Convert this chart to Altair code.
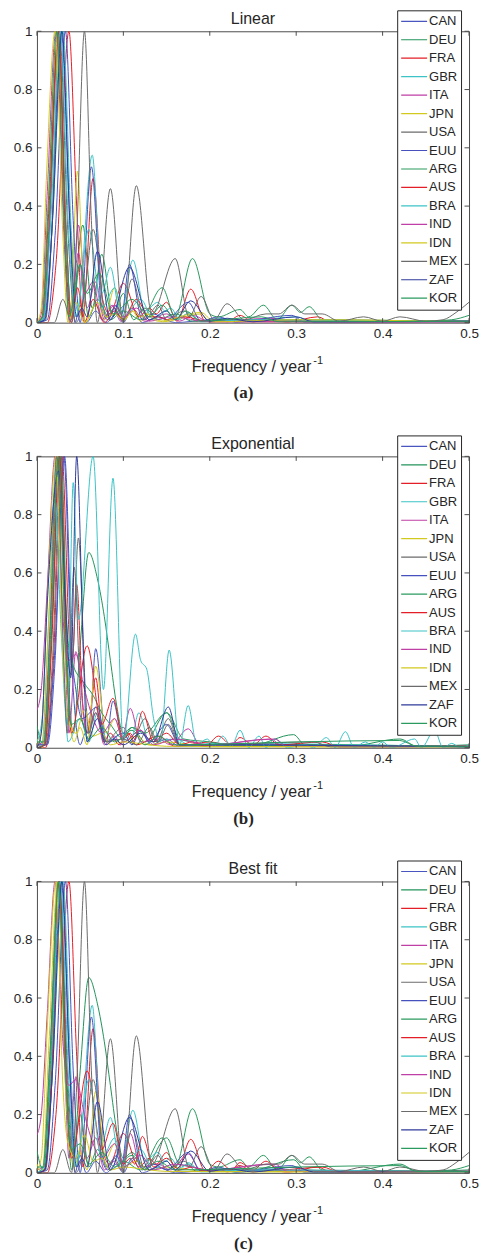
import altair as alt
import pandas as pd

COUNTRIES = ["CAN", "DEU", "FRA", "GBR", "ITA", "JPN", "USA", "EUU",
             "ARG", "AUS", "BRA", "IND", "IDN", "MEX", "ZAF", "KOR"]
COLORS = ["#4a56c0", "#22935a", "#e41e26", "#3cc3c6", "#bf3fa6", "#d2c91f", "#6b6b6b", "#4651bd",
          "#2a9a5e", "#e41e26", "#3cc3c6", "#bf3fa6", "#d2c91f", "#6b6b6b", "#2f3b9a", "#2a9a5e"]
XTICKS = [0, 0.1, 0.2, 0.3, 0.4, 0.5]
YTICKS = [0, 0.2, 0.4, 0.6, 0.8, 1]

# ---- Linear detrending: (frequency, normalised amplitude) ----
lin_CAN = [(0,0),(0.008,0.01),(0.016,0.25),(0.028,1),(0.038,0.35),(0.044,0.0),(0.05,0.06),(0.057,0.0),(0.068,0.04),(0.08,0.0),(0.092,0.03),(0.1,0.0),(0.11,0.05),(0.122,0.0),(0.14,0.02),(0.16,0.0),(0.2,0.01),(0.3,0.005),(0.5,0.005)]
lin_DEU = [(0,0),(0.007,0.01),(0.014,0.3),(0.024,1),(0.033,0.35),(0.04,0.02),(0.053,0.335),(0.064,0.05),(0.075,0.235),(0.088,0.02),(0.1,0.1),(0.112,0.01),(0.125,0.05),(0.14,0.01),(0.16,0.03),(0.18,0.005),(0.25,0.01),(0.5,0.005)]
lin_FRA = [(0,0),(0.012,0.0),(0.022,0.2),(0.037,1),(0.046,0.4),(0.053,0.02),(0.065,0.495),(0.076,0.08),(0.084,0.03),(0.1,0.135),(0.118,0.02),(0.13,0.05),(0.138,0.03),(0.15,0.07),(0.162,0.005),(0.178,0.115),(0.195,0.005),(0.21,0.015),(0.22,0.003),(0.235,0.025),(0.25,0.003),(0.27,0.01),(0.29,0.002),(0.325,0.02),(0.34,0.002),(0.5,0.005)]
lin_GBR = [(0,0),(0.01,0.02),(0.018,0.35),(0.03,1),(0.04,0.3),(0.047,0.04),(0.064,0.575),(0.075,0.1),(0.085,0.19),(0.097,0.02),(0.111,0.215),(0.125,0.04),(0.14,0.07),(0.148,0.04),(0.155,0.05),(0.165,0.01),(0.175,0.035),(0.19,0.005),(0.21,0.015),(0.23,0.002),(0.3,0.02),(0.32,0.002),(0.5,0.005)]
lin_ITA = [(0,0),(0.008,0.02),(0.015,0.35),(0.025,1),(0.034,0.3),(0.04,0.02),(0.048,0.335),(0.058,0.05),(0.068,0.14),(0.078,0.01),(0.087,0.06),(0.097,0.005),(0.11,0.05),(0.125,0.005),(0.15,0.03),(0.165,0.005),(0.18,0.025),(0.2,0.003),(0.27,0.015),(0.3,0.003),(0.5,0.003)]
lin_JPN = [(0,0),(0.006,0.02),(0.013,0.4),(0.024,1),(0.033,0.25),(0.038,0.0),(0.047,0.52),(0.056,0.0),(0.068,0.06),(0.078,0.01),(0.09,0.12),(0.1,0.005),(0.11,0.04),(0.12,0.005),(0.13,0.03),(0.145,0.003),(0.19,0.03),(0.2,0.003),(0.3,0.01),(0.5,0.003)]
lin_USA = [(0,0),(0.01,0.01),(0.017,0.3),(0.026,1),(0.036,0.3),(0.045,0.0),(0.055,0.1),(0.065,0.32),(0.08,0.02),(0.09,0.05),(0.098,0.01),(0.11,0.15),(0.125,0.01),(0.14,0.06),(0.15,0.01),(0.17,0.04),(0.185,0.005),(0.21,0.01),(0.5,0.005)]
lin_EUU = [(0,0),(0.012,0.01),(0.021,0.3),(0.033,1),(0.042,0.35),(0.05,0.0),(0.063,0.535),(0.075,0.05),(0.082,0.01),(0.092,0.06),(0.098,0.03),(0.107,0.2),(0.122,0.01),(0.135,0.03),(0.15,0.01),(0.175,0.07),(0.19,0.005),(0.21,0.02),(0.23,0.002),(0.295,0.025),(0.31,0.002),(0.5,0.005)]
lin_ARG = [(0,0),(0.007,0.02),(0.015,0.4),(0.025,1),(0.034,0.3),(0.04,0.01),(0.05,0.2),(0.06,0.02),(0.07,0.08),(0.085,0.01),(0.1,0.04),(0.12,0.01),(0.145,0.12),(0.16,0.02),(0.18,0.22),(0.2,0.03),(0.21,0.02),(0.235,0.045),(0.245,0.02),(0.262,0.06),(0.278,0.01),(0.295,0.06),(0.305,0.035),(0.315,0.055),(0.33,0.01),(0.36,0.005),(0.4,0.008),(0.45,0.005),(0.48,0.01),(0.5,0.025)]
lin_AUS = [(0,0),(0.006,0.02),(0.014,0.4),(0.025,1),(0.034,0.2),(0.04,0.0),(0.047,0.12),(0.055,0.0),(0.065,0.08),(0.078,0.0),(0.09,0.04),(0.1,0.01),(0.115,0.08),(0.13,0.02),(0.14,0.02),(0.152,0.01),(0.17,0.02),(0.2,0.003),(0.5,0.003)]
lin_BRA = [(0,0),(0.008,0.02),(0.016,0.35),(0.027,1),(0.037,0.3),(0.045,0.02),(0.06,0.32),(0.075,0.05),(0.09,0.12),(0.1,0.02),(0.12,0.08),(0.135,0.01),(0.15,0.04),(0.16,0.01),(0.175,0.03),(0.19,0.003),(0.25,0.01),(0.5,0.003)]
lin_IND = [(0,0),(0.005,0.03),(0.012,0.45),(0.022,1),(0.032,0.25),(0.038,0.0),(0.048,0.24),(0.055,0.1),(0.065,0.14),(0.075,0.01),(0.09,0.06),(0.1,0.02),(0.115,0.05),(0.13,0.005),(0.155,0.02),(0.2,0.003),(0.5,0.003)]
lin_IDN = [(0,0),(0.005,0.05),(0.011,0.5),(0.021,1),(0.03,0.3),(0.036,0.0),(0.045,0.07),(0.055,0.0),(0.07,0.07),(0.08,0.02),(0.09,0.03),(0.1,0.01),(0.112,0.04),(0.12,0.02),(0.127,0.03),(0.14,0.005),(0.19,0.035),(0.205,0.003),(0.3,0.01),(0.5,0.003)]
lin_MEX = [(0,0),(0.02,0.0),(0.03,0.08),(0.04,0.0),(0.046,0.3),(0.055,1),(0.063,0.35),(0.07,0.0),(0.085,0.46),(0.1,0.0),(0.115,0.47),(0.133,0.03),(0.16,0.22),(0.176,0.02),(0.19,0.09),(0.205,0.01),(0.22,0.065),(0.24,0.01),(0.265,0.03),(0.28,0.03),(0.295,0.06),(0.31,0.03),(0.33,0.03),(0.35,0.005),(0.378,0.02),(0.4,0.005),(0.42,0.02),(0.45,0.005),(0.47,0.01),(0.485,0.035),(0.5,0.07)]
lin_ZAF = [(0,0),(0.009,0.01),(0.018,0.35),(0.029,1),(0.038,0.35),(0.046,0.02),(0.052,0.05),(0.058,0.02),(0.07,0.245),(0.085,0.01),(0.107,0.19),(0.13,0.01),(0.15,0.04),(0.16,0.01),(0.178,0.075),(0.2,0.005),(0.22,0.015),(0.25,0.003),(0.3,0.02),(0.32,0.003),(0.5,0.003)]
lin_KOR = [(0,0),(0.006,0.02),(0.013,0.4),(0.023,1),(0.032,0.3),(0.037,0.02),(0.05,0.2),(0.058,0.1),(0.072,0.17),(0.088,0.03),(0.11,0.08),(0.13,0.02),(0.145,0.06),(0.16,0.01),(0.172,0.04),(0.19,0.005),(0.26,0.02),(0.28,0.003),(0.5,0.005)]

# ---- Exponential detrending ----
exp_CAN = [(0,0.01),(0.012,0.01),(0.021,0.3),(0.031,1),(0.04,0.3),(0.05,0.01),(0.056,0.05),(0.06,0.02),(0.068,0.34),(0.08,0.02),(0.088,0.16),(0.1,0.02),(0.12,0.06),(0.132,0.01),(0.15,0.03),(0.165,0.005),(0.2,0.01),(0.5,0.005)]
exp_DEU = [(0,0.075),(0.005,0.02),(0.009,0.01),(0.017,0.4),(0.026,1),(0.035,0.3),(0.042,0.05),(0.05,0.35),(0.06,0.67),(0.07,0.58),(0.078,0.45),(0.085,0.3),(0.092,0.15),(0.1,0.05),(0.11,0.07),(0.125,0.02),(0.15,0.12),(0.165,0.03),(0.18,0.02),(0.2,0.01),(0.25,0.01),(0.297,0.045),(0.31,0.01),(0.36,0.005),(0.42,0.03),(0.44,0.005),(0.5,0.01)]
exp_FRA = [(0,0),(0.01,0.0),(0.019,0.3),(0.029,1),(0.038,0.35),(0.041,0.3),(0.046,0.56),(0.053,0.15),(0.058,0.05),(0.068,0.24),(0.077,0.02),(0.085,0.05),(0.095,0.01),(0.105,0.05),(0.115,0.01),(0.14,0.04),(0.16,0.005),(0.2,0.02),(0.23,0.005),(0.5,0.005)]
exp_GBR = [(0,0.01),(0.006,0.02),(0.013,0.4),(0.023,1),(0.031,0.3),(0.036,0.02),(0.05,0.1),(0.06,0.02),(0.07,0.12),(0.082,0.02),(0.1,0.05),(0.108,0.02),(0.118,0.12),(0.13,0.02),(0.16,0.03),(0.18,0.005),(0.2,0.015),(0.5,0.003)]
exp_ITA = [(0,0.01),(0.007,0.02),(0.015,0.4),(0.025,1),(0.033,0.3),(0.037,0.05),(0.045,0.33),(0.058,0.05),(0.068,0.12),(0.078,0.01),(0.09,0.04),(0.097,0.01),(0.108,0.135),(0.12,0.02),(0.14,0.03),(0.155,0.01),(0.175,0.065),(0.19,0.005),(0.21,0.01),(0.27,0.03),(0.285,0.005),(0.5,0.005)]
exp_JPN = [(0,0.03),(0.006,0.0),(0.014,0.45),(0.024,1),(0.034,0.25),(0.043,0.02),(0.05,0.07),(0.058,0.01),(0.068,0.28),(0.08,0.05),(0.09,0.1),(0.1,0.02),(0.115,0.04),(0.13,0.01),(0.15,0.02),(0.2,0.003),(0.5,0.003)]
exp_USA = [(0,0.0),(0.01,0.01),(0.018,0.3),(0.028,1),(0.036,0.3),(0.04,0.25),(0.048,0.72),(0.056,0.2),(0.06,0.05),(0.068,0.14),(0.078,0.02),(0.1,0.07),(0.11,0.02),(0.125,0.1),(0.138,0.02),(0.152,0.1),(0.165,0.01),(0.2,0.01),(0.5,0.005)]
exp_EUU = [(0,0.01),(0.011,0.01),(0.02,0.3),(0.032,1),(0.041,0.3),(0.045,0.2),(0.052,0.1),(0.07,0.14),(0.08,0.02),(0.1,0.05),(0.11,0.01),(0.12,0.06),(0.13,0.02),(0.15,0.08),(0.165,0.01),(0.2,0.01),(0.5,0.003)]
exp_ARG = [(0,0.0),(0.008,0.01),(0.017,0.4),(0.027,1),(0.035,0.4),(0.04,0.3),(0.055,0.22),(0.065,0.18),(0.075,0.12),(0.085,0.08),(0.1,0.03),(0.11,0.07),(0.125,0.05),(0.15,0.12),(0.17,0.03),(0.2,0.02),(0.23,0.005),(0.3,0.01),(0.5,0.005)]
exp_AUS = [(0,0),(0.009,0.01),(0.017,0.35),(0.026,1),(0.035,0.25),(0.04,0.05),(0.058,0.35),(0.075,0.08),(0.088,0.17),(0.1,0.03),(0.108,0.05),(0.113,0.03),(0.122,0.125),(0.135,0.02),(0.15,0.05),(0.165,0.01),(0.18,0.02),(0.195,0.005),(0.21,0.04),(0.225,0.01),(0.235,0.035),(0.25,0.01),(0.265,0.04),(0.28,0.01),(0.33,0.02),(0.35,0.003),(0.5,0.005)]
exp_BRA = [(0,0.02),(0.006,0.1),(0.013,0.6),(0.021,0.85),(0.028,0.4),(0.035,0.08),(0.042,0.91),(0.048,0.44),(0.065,1.0),(0.077,0.2),(0.088,0.925),(0.1,0.02),(0.114,0.39),(0.12,0.3),(0.127,0.27),(0.135,0.1),(0.143,0.02),(0.153,0.335),(0.165,0.01),(0.175,0.145),(0.185,0.01),(0.197,0.03),(0.205,0.005),(0.215,0.04),(0.225,0.005),(0.235,0.06),(0.245,0.0),(0.257,0.04),(0.265,0.0),(0.275,0.03),(0.29,0.0),(0.31,0.01),(0.32,0.0),(0.335,0.035),(0.345,0.0),(0.357,0.055),(0.367,0.0),(0.38,0.02),(0.39,0.0),(0.4,0.02),(0.41,0.0),(0.437,0.03),(0.445,0.0),(0.46,0.06),(0.47,0.0),(0.48,0.015),(0.49,0.0),(0.5,0.01)]
exp_IND = [(0,0.13),(0.005,0.2),(0.012,0.55),(0.021,1),(0.03,0.45),(0.037,0.3),(0.045,0.32),(0.055,0.2),(0.065,0.1),(0.075,0.05),(0.09,0.1),(0.1,0.02),(0.12,0.06),(0.135,0.01),(0.16,0.03),(0.2,0.01),(0.275,0.03),(0.29,0.005),(0.5,0.005)]
exp_IDN = [(0,0.01),(0.005,0.05),(0.012,0.5),(0.022,1),(0.03,0.3),(0.036,0.1),(0.045,0.05),(0.055,0.13),(0.065,0.04),(0.075,0.05),(0.085,0.01),(0.1,0.02),(0.13,0.01),(0.15,0.005),(0.5,0.003)]
exp_MEX = [(0,0),(0.008,0.01),(0.015,0.4),(0.023,1),(0.031,0.3),(0.035,0.05),(0.043,0.62),(0.052,0.1),(0.06,0.05),(0.068,0.12),(0.08,0.02),(0.1,0.03),(0.115,0.01),(0.13,0.07),(0.14,0.02),(0.152,0.08),(0.165,0.01),(0.2,0.01),(0.32,0.02),(0.34,0.003),(0.5,0.003)]
exp_ZAF = [(0,0.0),(0.005,0.05),(0.012,0.5),(0.025,0.95),(0.033,0.5),(0.039,0.24),(0.046,1.0),(0.054,0.3),(0.058,0.02),(0.07,0.1),(0.08,0.01),(0.09,0.03),(0.1,0.01),(0.12,0.05),(0.135,0.02),(0.152,0.14),(0.165,0.01),(0.2,0.01),(0.5,0.003)]
exp_KOR = [(0,0.02),(0.008,0.02),(0.016,0.4),(0.025,1),(0.033,0.35),(0.04,0.08),(0.05,0.1),(0.06,0.03),(0.075,0.07),(0.09,0.02),(0.11,0.06),(0.125,0.01),(0.14,0.04),(0.16,0.01),(0.3,0.02),(0.42,0.025),(0.44,0.005),(0.5,0.005)]

# ---- Best fit: which detrending was chosen for each country ----
BEST_CHOICE = ["lin", "exp", "lin", "lin", "exp", "exp", "lin", "lin",
               "lin", "exp", "lin", "exp", "exp", "lin", "lin", "exp"]

LIN = {c: globals()["lin_" + c] for c in COUNTRIES}
EXP = {c: globals()["exp_" + c] for c in COUNTRIES}


def to_frame(series):
    rows = []
    for c in COUNTRIES:
        for f, v in series[c]:
            rows.append({"country": c, "f": f, "v": v})
    return pd.DataFrame(rows)


best = {c: (LIN[c] if ch == "lin" else EXP[c]) for c, ch in zip(COUNTRIES, BEST_CHOICE)}

W, H = 433, 292
AX = "#4d4d4d"
TXT = "#262626"
FONT = "Liberation Sans"

X = alt.X("f:Q", scale=alt.Scale(domain=[0, 0.5], nice=False, zero=False),
          axis=alt.Axis(values=XTICKS, format="~g", title=None, domain=False, ticks=False,
                        grid=False, labelPadding=4, labelFontSize=13.5, labelColor=TXT,
                        labelFont=FONT, labelFlush=False))
Y = alt.Y("v:Q", scale=alt.Scale(domain=[0, 1], nice=False),
          axis=alt.Axis(values=YTICKS, format="~g", title=None, domain=False, ticks=False,
                        grid=False, labelPadding=5, labelFontSize=13.5, labelColor=TXT,
                        labelFont=FONT, labelFlush=False))


def panel(df, title, cap):
    lines = alt.Chart(df).mark_line(strokeWidth=1, interpolate="monotone", clip=True).encode(
        x=X, y=Y,
        color=alt.Color("country:N", sort=COUNTRIES,
                        scale=alt.Scale(domain=COUNTRIES, range=COLORS),
                        legend=alt.Legend(orient="none", legendX=361, legendY=-21, title=None,
                                          symbolType="stroke", symbolSize=676,
                                          symbolStrokeWidth=1.2, clipHeight=16, rowPadding=2.5,
                                          labelFont=FONT, labelFontSize=13, labelColor=TXT,
                                          labelOffset=1, padding=3, fillColor="white",
                                          strokeColor=TXT)),
    )
    xt = pd.DataFrame({"f": XTICKS})
    yt = pd.DataFrame({"v": YTICKS})
    bt = alt.Chart(xt).mark_rule(color=AX, strokeWidth=1).encode(x=X, y=alt.value(H), y2=alt.value(H - 4.5))
    tt = alt.Chart(xt).mark_rule(color=AX, strokeWidth=1).encode(x=X, y=alt.value(0), y2=alt.value(4.5))
    lt = alt.Chart(yt).mark_rule(color=AX, strokeWidth=1).encode(y=Y, x=alt.value(0), x2=alt.value(4.5))
    rt = alt.Chart(yt).mark_rule(color=AX, strokeWidth=1).encode(y=Y, x=alt.value(W - 4.5), x2=alt.value(W))
    ttl = alt.Chart(pd.DataFrame({"t": [title]})).mark_text(
        font=FONT, fontSize=16, color=TXT, baseline="alphabetic", align="center").encode(
        text="t:N", x=alt.value(W / 2), y=alt.value(-7))
    xl = alt.Chart(pd.DataFrame({"t": ["Frequency / year"]})).mark_text(
        font=FONT, fontSize=16, color=TXT, baseline="alphabetic", align="right").encode(
        text="t:N", x=alt.value(275), y=alt.value(341))
    sup = alt.Chart(pd.DataFrame({"t": ["-1"]})).mark_text(
        font=FONT, fontSize=11, color=TXT, baseline="alphabetic", align="left").encode(
        text="t:N", x=alt.value(277), y=alt.value(333))
    cp = alt.Chart(pd.DataFrame({"t": [cap]})).mark_text(
        font="Liberation Serif", fontSize=17, fontWeight="bold", color=TXT,
        baseline="alphabetic", align="center").encode(
        text="t:N", x=alt.value(207), y=alt.value(368))
    return alt.layer(lines, bt, tt, lt, rt, ttl, xl, sup, cp).properties(width=W, height=H)


pa = panel(to_frame(LIN), "Linear", "(a)")
pb = panel(to_frame(EXP), "Exponential", "(b)")
pc = panel(to_frame(best), "Best fit", "(c)")

chart = alt.vconcat(pa, pb, pc, spacing=32).resolve_scale(color="independent").properties(
    padding={"left": 4, "top": 0, "right": 0, "bottom": 0}
).configure_view(stroke=AX, strokeWidth=1)

chart.save("out.html", embed_options={"renderer": "svg", "actions": False})
